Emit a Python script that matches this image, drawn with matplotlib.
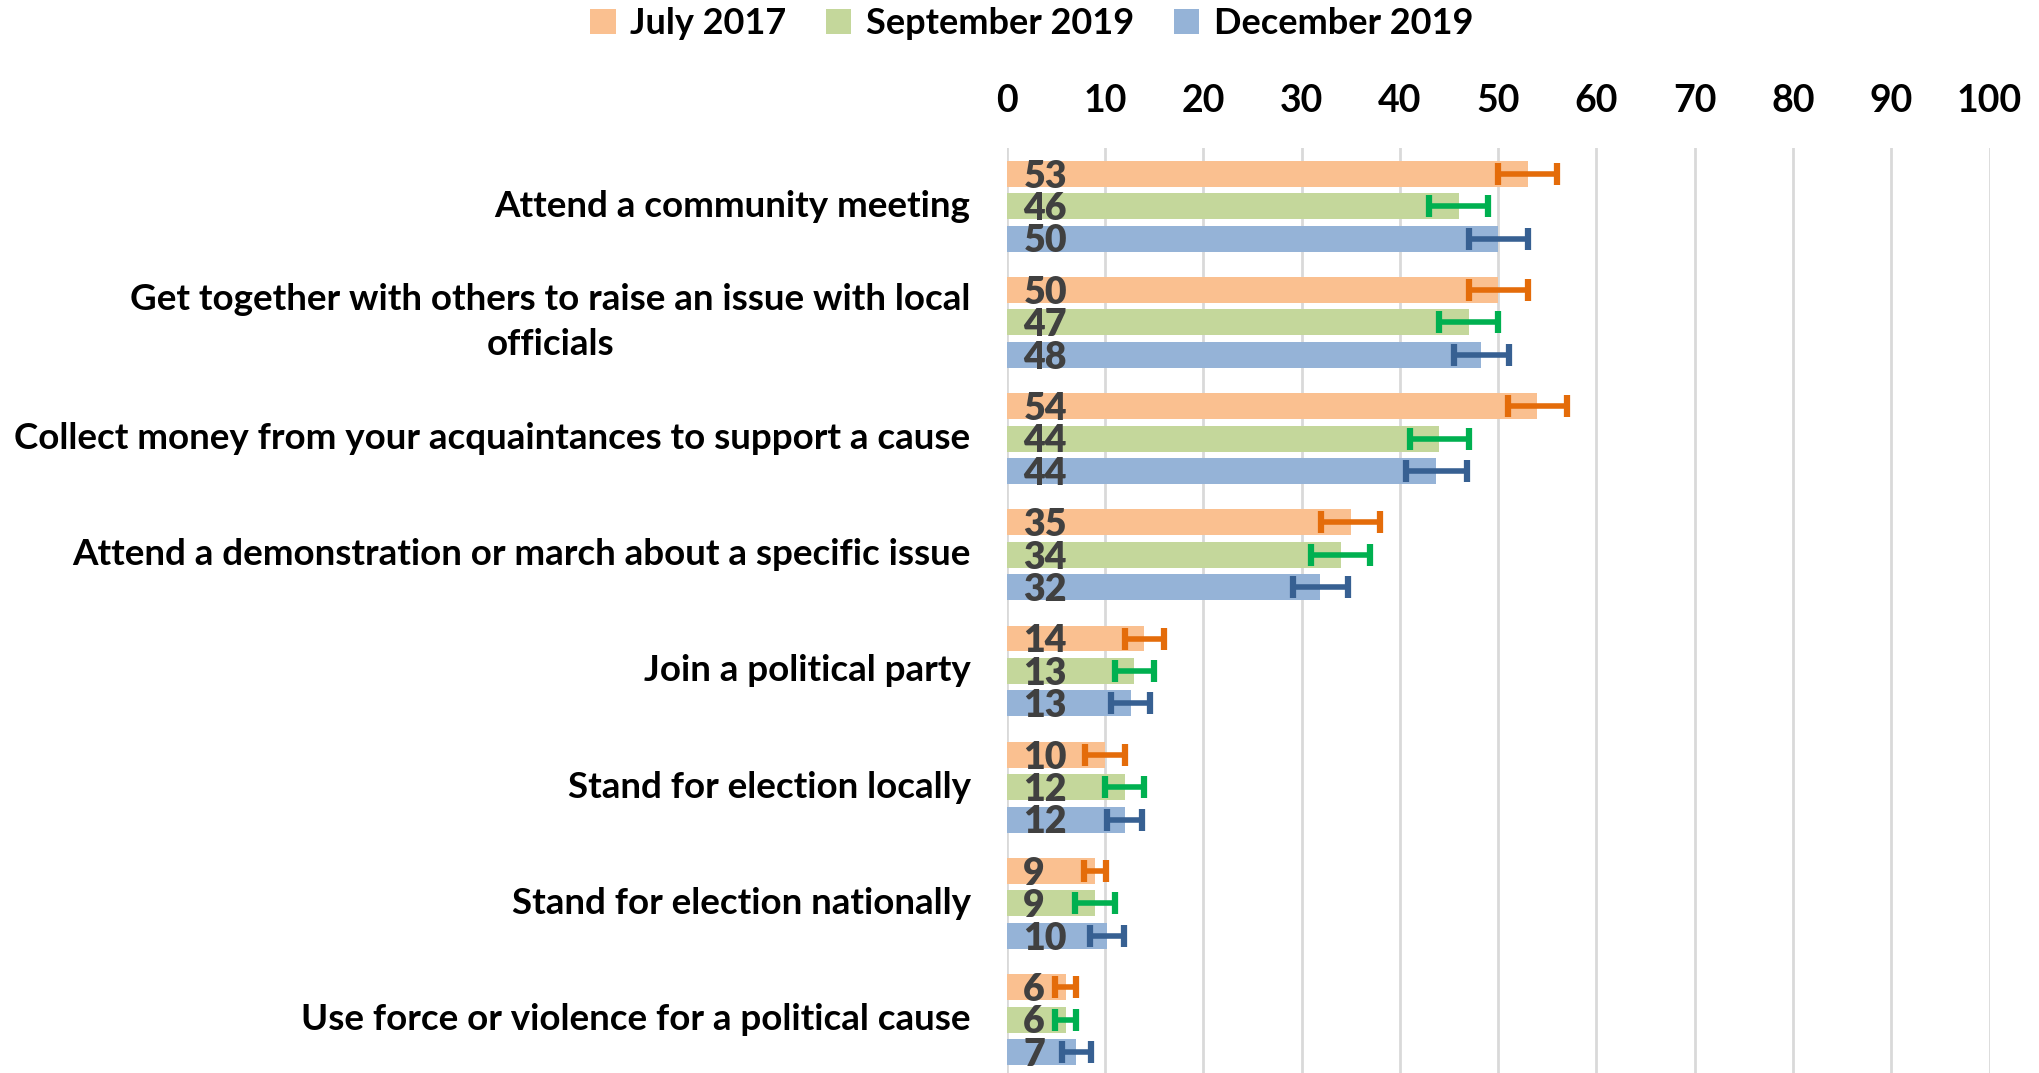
import matplotlib
matplotlib.use("Agg")
import matplotlib.pyplot as plt
import numpy as np
from matplotlib.patches import Patch

plt.rcParams['font.family'] = ['Lato', 'DejaVu Sans']
plt.rcParams['font.weight'] = 'bold'

categories = [
    "Attend a community meeting",
    "Get together with others to raise an issue with local\nofficials",
    "Collect money from your acquaintances to support a cause",
    "Attend a demonstration or march about a specific issue",
    "Join a political party",
    "Stand for election locally",
    "Stand for election nationally",
    "Use force or violence for a political cause",
]
series_names = ["July 2017", "September 2019", "December 2019"]
july_2017 = [53, 50, 54, 35, 14, 10, 9, 6]
sept_2019 = [46, 47, 44, 34, 13, 12, 9, 6]
dec_2019 = [50, 48.3, 43.7, 31.9, 12.6, 12, 10.2, 7.1]
july_err = [3, 3, 3, 3, 2, 2, 1.1, 1.1]
sept_err = [3, 3, 3, 3, 2, 2, 2, 1.1]
dec_err = [3, 2.8, 3.1, 2.8, 2, 1.8, 1.75, 1.5]
xticks = [0, 10, 20, 30, 40, 50, 60, 70, 80, 90, 100]

values = [july_2017, sept_2019, dec_2019]
errors = [july_err, sept_err, dec_err]
bar_colors = ["#FAC090", "#C4D79B", "#95B3D7"]
err_colors = ["#E46C0A", "#00B050", "#376092"]

fig = plt.figure(figsize=(20.39, 10.73), dpi=100)
ax = fig.add_axes([0.4937, 0.0, 0.4821, 0.862])

n = len(categories)
y = np.arange(n)
pitch = 0.279
height = 0.223
for k in range(3):
    yy = y + (k - 1) * pitch
    ax.barh(yy, values[k], height=height, color=bar_colors[k], zorder=2)
    ax.errorbar(values[k], yy, xerr=errors[k], fmt='none', ecolor=err_colors[k],
                elinewidth=4, capsize=8, capthick=4.5, zorder=3)
    for yi, v in zip(yy, values[k]):
        ax.annotate(f"{v:.0f}", xy=(0, yi), xytext=(12, -2), textcoords='offset points',
                    ha='left', va='center', fontsize=27, fontweight='heavy', color='#404040', zorder=4)

ax.set_xlim(0, 100)
ax.set_ylim(7.46, -0.5)
ax.set_xticks(xticks)
ax.xaxis.tick_top()
ax.tick_params(axis='x', length=0, pad=22, labelsize=27, labelcolor='black')
ax.tick_params(axis='y', length=0, pad=26, labelsize=26.5, labelcolor='black')
ax.set_yticks(y)
ax.set_yticklabels(categories)
for t in ax.get_yticklabels():
    t.set_multialignment('center')
    t.set_fontweight('bold')
    t.set_linespacing(1.45)
    t.set_verticalalignment('center')
for t in ax.get_xticklabels():
    t.set_fontweight('bold')
ax.grid(axis='x', color='#D9D9D9', linewidth=2, zorder=0)
ax.set_axisbelow(True)
for s in ax.spines.values():
    s.set_visible(False)

handles = [Patch(facecolor=c, label=l) for c, l in zip(bar_colors, series_names)]
fig.legend(handles=handles, loc='center', bbox_to_anchor=(0.506, 0.978), ncol=3, frameon=False,
           handlelength=0.7, handleheight=0.7, handletextpad=0.4, columnspacing=1.1,
           prop={'weight': 'bold', 'size': 26})

fig.savefig("out.png", dpi=100)
